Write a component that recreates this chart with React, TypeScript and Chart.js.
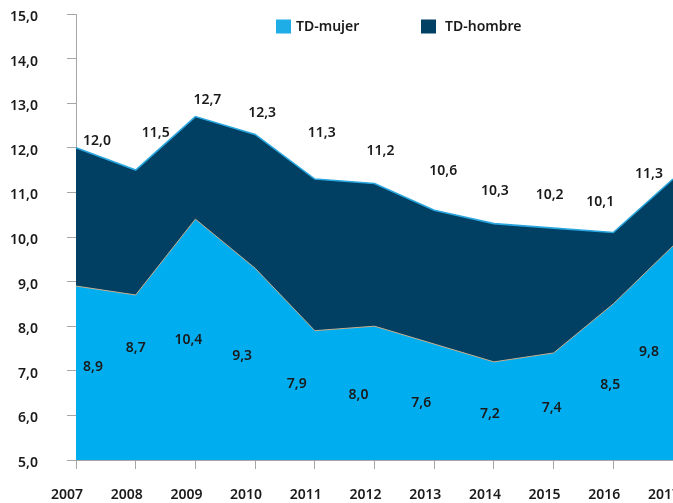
import { useEffect, useRef } from "react";
import { Chart, registerables } from "chart.js";

Chart.register(...registerables);

const years = ["2007", "2008", "2009", "2010", "2011", "2012", "2013", "2014", "2015", "2016", "2017"];
const tdMujer = [8.9, 8.7, 10.4, 9.3, 7.9, 8.0, 7.6, 7.2, 7.4, 8.5, 9.8];
const tdHombre = [12.0, 11.5, 12.7, 12.3, 11.3, 11.2, 10.6, 10.3, 10.2, 10.1, 11.3];
const seriesNames = ["TD-mujer", "TD-hombre"];
const yMin = 5;
const yMax = 15;
const yStep = 1;

// label placement (pixel offsets from each point), styling only
const mujerLabelOffsets: [number, number][] = [
  [17, 81], [0, 53], [-7, 121], [-13, 88], [-18, 53], [-16, 69],
  [-13, 59], [-4, 52], [-2, 55], [-3, 81], [-24, 106],
];
const hombreLabelOffsets: [number, number][] = [
  [21, -7], [20, -37], [12, -17], [7, -21], [7, -46], [6, -32],
  [9, -39], [1, -33], [-4, -33], [-13, -31], [-24, -5],
];

const FONT = '"Noto Sans", "DejaVu Sans", sans-serif';
const TEXT = "#1a1a1a";
const AXIS = "#a6a6a6";
const MUJER_FILL = "#00adef";
const MUJER_LEGEND = "#1eade6";
const HOMBRE_FILL = "#024063";

const fmt = (v: number) => v.toFixed(1).replace(".", ",");

const valueLabels = {
  id: "valueLabels",
  afterDatasetsDraw(chart: any) {
    const ctx = chart.ctx;
    ctx.save();
    ctx.font = `600 14px ${FONT}`;
    ctx.fillStyle = TEXT;
    ctx.textAlign = "center";
    ctx.textBaseline = "middle";
    chart.data.datasets.forEach((ds: any, di: number) => {
      const meta = chart.getDatasetMeta(di);
      const offs = di === 0 ? mujerLabelOffsets : hombreLabelOffsets;
      meta.data.forEach((pt: any, i: number) => {
        const [dx, dy] = offs[i];
        ctx.fillText(fmt(ds.data[i]), pt.x + dx, pt.y + dy);
      });
    });
    ctx.restore();
  },
};

const customLegend = {
  id: "customLegend",
  afterDraw(chart: any) {
    const ctx = chart.ctx;
    const left = chart.chartArea.left;
    const top = chart.chartArea.top;
    const items = [
      { name: seriesNames[0], color: MUJER_LEGEND, x: left + 200 },
      { name: seriesNames[1], color: HOMBRE_FILL, x: left + 345 },
    ];
    ctx.save();
    ctx.font = `600 14px ${FONT}`;
    ctx.fillStyle = TEXT;
    ctx.textBaseline = "middle";
    ctx.textAlign = "left";
    items.forEach((it, k) => {
      ctx.fillStyle = it.color;
      ctx.fillRect(it.x, top + 5.5, 15, 14);
      ctx.fillStyle = TEXT;
      ctx.fillText(it.name, it.x + (k === 0 ? 20 : 24), top + 13);
    });
    ctx.restore();
  },
};

export default function App() {
  const ref = useRef<HTMLCanvasElement | null>(null);

  useEffect(() => {
    document.body.style.margin = "0";
    document.body.style.overflow = "hidden";
    if (!ref.current) return;
    const chart = new Chart(ref.current, {
      type: "line",
      data: {
        labels: years,
        datasets: [
          {
            label: seriesNames[0],
            data: tdMujer,
            backgroundColor: MUJER_FILL,
            borderColor: "#c9b08f",
            borderWidth: 1,
            fill: "start",
            pointRadius: 0,
            tension: 0,
          },
          {
            label: seriesNames[1],
            data: tdHombre,
            backgroundColor: HOMBRE_FILL,
            borderColor: "#2aa7df",
            borderWidth: 1.6,
            fill: "start",
            pointRadius: 0,
            tension: 0,
          },
        ],
      },
      options: {
        animation: false,
        responsive: false,
        layout: { padding: { top: 14, left: 0, right: 0, bottom: 0 } },
        plugins: {
          legend: { display: false },
          tooltip: { enabled: false },
        },
        scales: {
          x: {
            type: "category",
            offset: false,
            ticks: {
              color: TEXT,
              font: { family: FONT, size: 14, weight: "600", lineHeight: 1.1 },
              padding: 18,
              labelOffset: -9,
              maxRotation: 0,
              autoSkip: false,
            },
            grid: {
              display: true,
              drawOnChartArea: false,
              drawTicks: true,
              tickLength: 9,
              color: AXIS,
              offset: false,
            },
            border: { display: true, color: AXIS, width: 1 },
            afterFit: (s: any) => {
              s.paddingRight = 0;
              s.paddingLeft = 0;
              s.height = 43;
            },
          },
          y: {
            min: yMin,
            max: yMax,
            ticks: {
              stepSize: yStep,
              callback: (v: any) => fmt(Number(v)),
              color: TEXT,
              font: { family: FONT, size: 14, weight: "600" },
              padding: 29,
              labelOffset: 3,
            },
            grid: {
              display: true,
              drawOnChartArea: false,
              drawTicks: true,
              tickLength: 9,
              color: AXIS,
            },
            border: { display: true, color: AXIS, width: 1 },
            afterFit: (s: any) => {
              s.width = 76;
              s.paddingTop = 0;
              s.paddingBottom = 0;
            },
          },
        },
      },
      plugins: [valueLabels, customLegend],
    });
    return () => chart.destroy();
  }, []);

  return (
    <div style={{ width: 673, height: 503, overflow: "hidden" }}>
      <canvas ref={ref} width={673} height={503} style={{ display: "block" }} />
    </div>
  );
}
